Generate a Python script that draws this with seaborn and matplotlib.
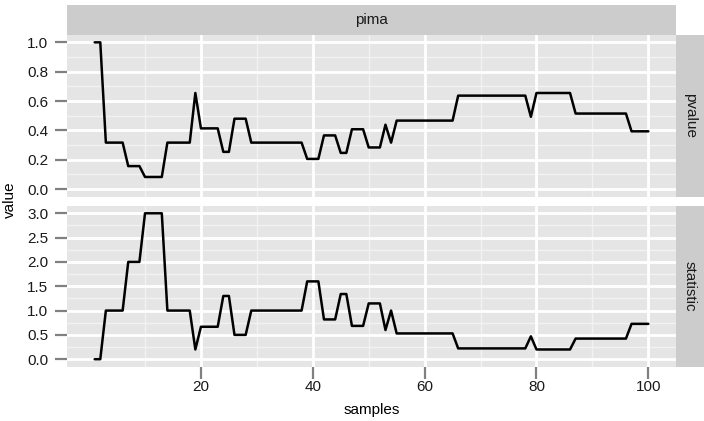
import numpy as np
import pandas as pd
import matplotlib
matplotlib.use("Agg")
import matplotlib.pyplot as plt
import seaborn as sns
from matplotlib.ticker import FixedLocator, FixedFormatter

# ---- data ----
samples = list(range(1, 101))
pvalue = [
    1.0, 1.0, 0.317, 0.317, 0.317, 0.317, 0.157, 0.157, 0.157, 0.083,
    0.083, 0.083, 0.083, 0.317, 0.317, 0.317, 0.317, 0.317, 0.655, 0.414,
    0.414, 0.414, 0.414, 0.254, 0.254, 0.480, 0.480, 0.480, 0.317, 0.317,
    0.317, 0.317, 0.317, 0.317, 0.317, 0.317, 0.317, 0.317, 0.206, 0.206,
    0.206, 0.366, 0.366, 0.366, 0.247, 0.247, 0.408, 0.408, 0.408, 0.284,
    0.284, 0.284, 0.439, 0.317, 0.467, 0.467, 0.467, 0.467, 0.467, 0.467,
    0.467, 0.467, 0.467, 0.467, 0.467, 0.637, 0.637, 0.637, 0.637, 0.637,
    0.637, 0.637, 0.637, 0.637, 0.637, 0.637, 0.637, 0.637, 0.493, 0.655,
    0.655, 0.655, 0.655, 0.655, 0.655, 0.655, 0.515, 0.515, 0.515, 0.515,
    0.515, 0.515, 0.515, 0.515, 0.515, 0.515, 0.394, 0.394, 0.394, 0.394,
]
statistic = [
    0.0, 0.0, 1.0, 1.0, 1.0, 1.0, 2.0, 2.0, 2.0, 3.0,
    3.0, 3.0, 3.0, 1.0, 1.0, 1.0, 1.0, 1.0, 0.2, 0.667,
    0.667, 0.667, 0.667, 1.3, 1.3, 0.5, 0.5, 0.5, 1.0, 1.0,
    1.0, 1.0, 1.0, 1.0, 1.0, 1.0, 1.0, 1.0, 1.6, 1.6,
    1.6, 0.818, 0.818, 0.818, 1.34, 1.34, 0.685, 0.685, 0.685, 1.147,
    1.147, 1.147, 0.6, 1.0, 0.53, 0.53, 0.53, 0.53, 0.53, 0.53,
    0.53, 0.53, 0.53, 0.53, 0.53, 0.222, 0.222, 0.222, 0.222, 0.222,
    0.222, 0.222, 0.222, 0.222, 0.222, 0.222, 0.222, 0.222, 0.47, 0.2,
    0.2, 0.2, 0.2, 0.2, 0.2, 0.2, 0.424, 0.424, 0.424, 0.424,
    0.424, 0.424, 0.424, 0.424, 0.424, 0.424, 0.727, 0.727, 0.727, 0.727,
]
col_facet = "pima"
row_facets = ["pvalue", "statistic"]
x_ticks = [20, 40, 60, 80, 100]
y_ticks_top = [0.0, 0.2, 0.4, 0.6, 0.8, 1.0]
y_ticks_bot = [0.0, 0.5, 1.0, 1.5, 2.0, 2.5, 3.0]

df = pd.DataFrame({
    "samples": samples * 2,
    "value": pvalue + statistic,
    "variable": ["pvalue"] * len(samples) + ["statistic"] * len(samples),
})

sns.set_theme(style="white")
plt.rcParams["font.family"] = ["Liberation Sans", "DejaVu Sans"]

W, H = 704, 421
fig = plt.figure(figsize=(W / 100, H / 100), dpi=100)

def fr(x0, y0, x1, y1):
    # pixel box (top-left origin) -> figure fraction
    return [x0 / W, 1 - y1 / H, (x1 - x0) / W, (y1 - y0) / H]

PL, PR = 67, 676
panels = [(35, 196.5), (206, 366.5)]
yticks_list = [y_ticks_top, y_ticks_bot]
GRAY_TXT = "#1a1a1a"
FS = 11

def minor_between(ticks, lo, hi):
    step = ticks[1] - ticks[0]
    out = []
    v = ticks[0] - step / 2
    while v <= hi:
        if v >= lo:
            out.append(v)
        v += step
    return out

xmin, xmax = 1, 100
xr = xmax - xmin
xlim = (xmin - 0.05 * xr, xmax + 0.05 * xr)

for i, (var, (y0, y1)) in enumerate(zip(row_facets, panels)):
    ax = fig.add_axes(fr(PL, y0, PR, y1))
    ax.set_facecolor("#E5E5E5")
    sub = df[df["variable"] == var]
    yt = yticks_list[i]
    ymin, ymax = min(yt[0], sub["value"].min()), max(yt[-1], sub["value"].max())
    yr = ymax - ymin
    ylim = (ymin - 0.05 * yr, ymax + 0.05 * yr)
    # grid
    for v in minor_between(x_ticks, xlim[0], xlim[1]):
        ax.axvline(v, color="#F2F2F2", lw=1.0, zorder=0.5)
    for v in minor_between(yt, ylim[0], ylim[1]):
        ax.axhline(v, color="#F2F2F2", lw=1.0, zorder=0.5)
    for v in x_ticks:
        ax.axvline(v, color="white", lw=2.0, zorder=0.6)
    for v in yt:
        ax.axhline(v, color="white", lw=2.0, zorder=0.6)
    sns.lineplot(data=sub, x="samples", y="value", ax=ax, color="black",
                 lw=1.8, zorder=3, legend=False)
    ax.set_xlim(*xlim)
    ax.set_ylim(*ylim)
    for s in ax.spines.values():
        s.set_visible(False)
    ax.yaxis.set_major_locator(FixedLocator(yt))
    ax.yaxis.set_major_formatter(FixedFormatter([f"{v:.1f}" for v in yt]))
    ax.tick_params(axis="y", length=8.5, width=1.6, color="#808080",
                   labelsize=FS, labelcolor=GRAY_TXT, pad=5, left=True)
    ax.xaxis.set_major_locator(FixedLocator(x_ticks))
    if i == 1:
        ax.xaxis.set_major_formatter(FixedFormatter([str(v) for v in x_ticks]))
        ax.tick_params(axis="x", length=8.5, width=1.6, color="#808080",
                       labelsize=FS, labelcolor=GRAY_TXT, pad=1, bottom=True)
    else:
        ax.tick_params(axis="x", bottom=False, labelbottom=False)
    ax.set_xlabel("")
    ax.set_ylabel("")
    # right strip
    sax = fig.add_axes(fr(PR, y0, W, y1))
    sax.set_facecolor("#CCCCCC")
    sax.set_xticks([]); sax.set_yticks([])
    for s in sax.spines.values():
        s.set_visible(False)
    sax.text(0.5, 0.5, var, rotation=-90, ha="center", va="center",
             fontsize=FS, color=GRAY_TXT, transform=sax.transAxes)

# top strip
tax = fig.add_axes(fr(PL, 5, PR, 35))
tax.set_facecolor("#CCCCCC")
tax.set_xticks([]); tax.set_yticks([])
for s in tax.spines.values():
    s.set_visible(False)
tax.text(0.5, 0.5, col_facet, ha="center", va="center", fontsize=FS,
         color=GRAY_TXT, transform=tax.transAxes)

fig.text((PL + PR) / 2 / W, 1 - 410 / H, "samples", ha="center", va="center",
         fontsize=FS, color="black")
fig.text(10 / W, 1 - 200 / H, "value", ha="center", va="center",
         rotation=90, fontsize=FS, color="black")

fig.savefig("out.png", dpi=100)
